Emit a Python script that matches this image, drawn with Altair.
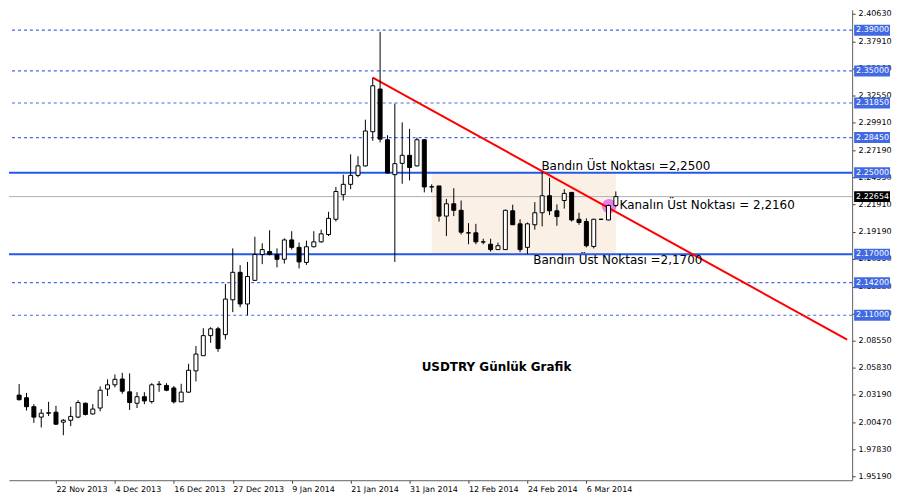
import json
import altair as alt
import pandas as pd

# ---------------- data ----------------
opens = [2.0316, 2.0290, 2.0202, 2.0100, 2.0138, 2.0148, 2.0050, 2.0069, 2.0100, 2.0236,
         2.0131, 2.0189, 2.0376, 2.0417, 2.0474, 2.0348, 2.0236, 2.0300, 2.0252, 2.0419,
         2.0411, 2.0386, 2.0250, 2.0345, 2.0554, 2.0703, 2.0900, 2.0967, 2.0910, 2.1252,
         2.1522, 2.1211, 2.1443, 2.1697, 2.1726, 2.1697, 2.1650, 2.1840, 2.1767, 2.1619,
         2.1773, 2.1821, 2.1893, 2.2043, 2.2284, 2.2386, 2.2474, 2.2567, 2.2903, 2.3322,
         2.2824, 2.2481, 2.2592, 2.2671, 2.2567, 2.2824, 2.2362, 2.2370, 2.2074, 2.2195,
         2.2131, 2.1910, 2.1910, 2.1821, 2.1798, 2.1745, 2.1745, 2.2126, 2.1998, 2.1767,
         2.1989, 2.2107, 2.2274, 2.2126, 2.2227, 2.2307, 2.2043, 2.2021, 2.1776, 2.2043,
         2.2036, 2.2179]
highs = [2.0424, 2.0338, 2.0227, 2.0179, 2.0250, 2.0211, 2.0081, 2.0202, 2.0265, 2.0243,
         2.0227, 2.0402, 2.0471, 2.0519, 2.0535, 2.0529, 2.0345, 2.0345, 2.0433, 2.0455,
         2.0433, 2.0405, 2.0427, 2.0624, 2.0798, 2.0973, 2.0983, 2.0986, 2.1408, 2.1757,
         2.1592, 2.1624, 2.1871, 2.1808, 2.1935, 2.1757, 2.1855, 2.1926, 2.1814, 2.1833,
         2.1926, 2.1941, 2.2116, 2.2360, 2.2481, 2.2681, 2.2662, 2.3021, 2.3433, 2.3884,
         2.2869, 2.3179, 2.2995, 2.2931, 2.2846, 2.2829, 2.2386, 2.2370, 2.2243, 2.2348,
         2.2227, 2.2005, 2.1998, 2.1852, 2.1852, 2.1814, 2.2138, 2.2186, 2.2043, 2.2011,
         2.2211, 2.2507, 2.2450, 2.2189, 2.2338, 2.2310, 2.2107, 2.2052, 2.2048, 2.2048,
         2.2186, 2.2316]
lows = [2.0262, 2.0164, 2.0043, 1.9998, 2.0110, 2.0024, 1.9922, 2.0011, 2.0090, 2.0116,
        2.0124, 2.0157, 2.0307, 2.0392, 2.0329, 2.0170, 2.0189, 2.0227, 2.0233, 2.0348,
        2.0354, 2.0233, 2.0248, 2.0338, 2.0450, 2.0700, 2.0830, 2.0741, 2.0862, 2.1131,
        2.1179, 2.1100, 2.1438, 2.1602, 2.1688, 2.1570, 2.1608, 2.1745, 2.1560, 2.1595,
        2.1767, 2.1814, 2.1878, 2.2021, 2.2227, 2.2338, 2.2455, 2.2562, 2.2814, 2.2798,
        2.2495, 2.1624, 2.2392, 2.2424, 2.2562, 2.2307, 2.2307, 2.2021, 2.1878, 2.2074,
        2.1893, 2.1798, 2.1798, 2.1798, 2.1726, 2.1743, 2.1743, 2.1986, 2.1719, 2.1703,
        2.1941, 2.1973, 2.2084, 2.1979, 2.2148, 2.2021, 2.1989, 2.1767, 2.1757, 2.2038,
        2.2033, 2.2164]
closes = [2.0271, 2.0202, 2.0100, 2.0138, 2.0143, 2.0030, 2.0069, 2.0107, 2.0243, 2.0126,
          2.0179, 2.0364, 2.0417, 2.0471, 2.0354, 2.0243, 2.0300, 2.0259, 2.0417, 2.0424,
          2.0364, 2.0250, 2.0345, 2.0560, 2.0719, 2.0900, 2.0967, 2.0773, 2.1259, 2.1522,
          2.1211, 2.1481, 2.1697, 2.1745, 2.1697, 2.1650, 2.1840, 2.1767, 2.1624, 2.1773,
          2.1821, 2.1900, 2.2052, 2.2316, 2.2386, 2.2474, 2.2567, 2.2910, 2.3354, 2.2830,
          2.2497, 2.2589, 2.2671, 2.2551, 2.2824, 2.2360, 2.2360, 2.2074, 2.2195, 2.2131,
          2.1916, 2.1908, 2.1821, 2.1819, 2.1745, 2.1783, 2.2131, 2.1989, 2.1745, 2.1998,
          2.2107, 2.2274, 2.2126, 2.2069, 2.2297, 2.2036, 2.2011, 2.1783, 2.2043, 2.2042,
          2.2179, 2.22654]

tick_idx = [6, 14, 22, 30, 38, 46, 54, 62, 70, 78]
tick_lbl = ["22 Nov 2013", "4 Dec 2013", "16 Dec 2013", "27 Dec 2013", "9 Jan 2014",
            "21 Jan 2014", "31 Jan 2014", "12 Feb 2014", "24 Feb 2014", "6 Mar 2014"]

y_ticks = [2.40630, 2.37910, 2.35190, 2.32550, 2.29910, 2.27190, 2.24550, 2.21910,
           2.19190, 2.16550, 2.13830, 2.11190, 2.08550, 2.05830, 2.03190, 2.00470,
           1.97830, 1.95190]

dashed_levels = [2.39, 2.35, 2.3185, 2.2845, 2.142, 2.11]
solid_levels = [2.25, 2.17]
current_price = 2.22654

band_x = [57, 82]
band_y = [2.17, 2.25]
trend_x = [49, 113.4]
trend_y = [2.3433, 2.0862]
marker_x = [81.1]
marker_y = [2.2171]

notes = ["Bandın Üst Noktası =2,2500", "Kanalın Üst Noktası = 2,2160", "Bandın Üst Noktası =2,1700"]
notes_x = [71.9, 82.5, 70.8]
notes_y = [2.2567, 2.2181, 2.1638]
title_txt = ["USDTRY Günlük Grafik"]
title_x = [65.8]
title_y = [2.0595]

# ---------------- layout ----------------
W, H = 846, 472
XDOM = [0.3, 113.4]
YDOM = [1.948, 2.41]
FONT = "Tahoma, DejaVu Sans"

label_expr = f"{json.dumps(tick_lbl)}[indexof({json.dumps(tick_idx)}, datum.value)]"
xaxis = alt.Axis(values=tick_idx, labelExpr=label_expr, orient="bottom", grid=False,
                 title=None, labelAlign="left", labelFlush=False, labelOverlap=False,
                 labelBound=False, tickSize=3, labelPadding=2, labelFont=FONT,
                 labelFontSize=8, labelColor="black", domainColor="#606060",
                 tickColor="#404040", labelBaseline="top")
yaxis = alt.Axis(values=y_ticks, format=".5f", orient="right", grid=False, title=None,
                 tickSize=3, labelPadding=3, labelFont=FONT, labelFontSize=8,
                 labelColor="black", labelOverlap=False, labelFlush=False,
                 domainColor="#606060", tickColor="#404040")
xs = alt.Scale(domain=XDOM, nice=False, zero=False)
ys = alt.Scale(domain=YDOM, nice=False, zero=False)


def X(f):
    return alt.X(f, type="quantitative", scale=xs, axis=xaxis)


def Y(f):
    return alt.Y(f, type="quantitative", scale=ys, axis=yaxis)


candles = pd.DataFrame({
    "i": list(range(1, len(opens) + 1)),
    "open": opens, "high": highs, "low": lows, "close": closes,
})
candles["dir"] = ["up" if c >= o else "down" for o, c in zip(opens, closes)]

band = pd.DataFrame({"x": [band_x[0]], "x2": [band_x[1]], "y": [band_y[0]], "y2": [band_y[1]]})
rect = alt.Chart(band).mark_rect(color="#FAF0E6").encode(
    x=X("x"), x2="x2", y=Y("y"), y2="y2")

dashed = alt.Chart(pd.DataFrame({"level": dashed_levels})).mark_rule(
    color="#4169E1", strokeWidth=1.2, strokeDash=[3, 3]).encode(y=Y("level"))
solid = alt.Chart(pd.DataFrame({"level": solid_levels})).mark_rule(
    color="#2458E6", strokeWidth=2).encode(y=Y("level"))
cur = alt.Chart(pd.DataFrame({"level": [current_price]})).mark_rule(
    color="#B0B0B0", strokeWidth=1).encode(y=Y("level"))

marker = alt.Chart(pd.DataFrame({"x": marker_x, "y": marker_y})).mark_point(
    filled=True, shape="circle", size=210, color="#E455E4", opacity=0.75).encode(
    x=X("x"), y=Y("y"))

trend = alt.Chart(pd.DataFrame({"x": trend_x, "y": trend_y})).mark_line(
    color="#FF0000", strokeWidth=2, clip=True).encode(x=X("x"), y=Y("y"))

wicks = alt.Chart(candles).mark_rule(color="black", strokeWidth=1).encode(
    x=X("i"), y=Y("low"), y2="high")
bodies = alt.Chart(candles).mark_bar(size=4, stroke="black", strokeWidth=1).encode(
    x=X("i"), y=Y("open"), y2="close",
    fill=alt.Fill("dir:N", scale=alt.Scale(domain=["up", "down"], range=["white", "black"]),
                  legend=None))

note_df = pd.DataFrame({"t": notes, "x": notes_x, "y": notes_y})
note_txt = alt.Chart(note_df).mark_text(
    align="left", baseline="middle", font=FONT, fontSize=12, color="black").encode(
    x=X("x"), y=Y("y"), text="t:N")

ttl = alt.Chart(pd.DataFrame({"t": title_txt, "x": title_x, "y": title_y})).mark_text(
    align="center", baseline="middle", font=FONT, fontSize=12, fontWeight="bold",
    color="black").encode(x=X("x"), y=Y("y"), text="t:N")

# price boxes on the right axis
half = 5.5 * (YDOM[1] - YDOM[0]) / H
box_levels = dashed_levels + solid_levels
box_df = pd.DataFrame({"level": box_levels, "kind": ["line"] * len(box_levels)})
box_df = pd.concat([box_df, pd.DataFrame({"level": [current_price], "kind": ["price"]})],
                   ignore_index=True)
box_df["lo"] = box_df["level"] - half
box_df["hi"] = box_df["level"] + half
box_df["lbl"] = [f"{v:.5f}" for v in box_df["level"]]

boxes = alt.Chart(box_df).mark_rect().encode(
    x=alt.value(W + 2), x2=alt.value(W + 38), y=Y("lo"), y2="hi",
    color=alt.Color("kind:N", scale=alt.Scale(domain=["line", "price"],
                                              range=["#4169E1", "black"]), legend=None))
box_txt = alt.Chart(box_df).mark_text(
    align="left", baseline="middle", font=FONT, fontSize=8, color="white").encode(
    x=alt.value(W + 4), y=Y("level"), text="lbl:N")

chart = alt.layer(
    rect, dashed, solid, cur, marker, trend, wicks, bodies, note_txt, ttl, boxes, box_txt
).resolve_scale(color="independent").properties(
    width=W, height=H, padding={"left": 0, "top": 0, "right": 0, "bottom": 0},
    background="white"
).configure_view(stroke=None)

chart.save("out.html", embed_options={"renderer": "svg", "actions": False})
